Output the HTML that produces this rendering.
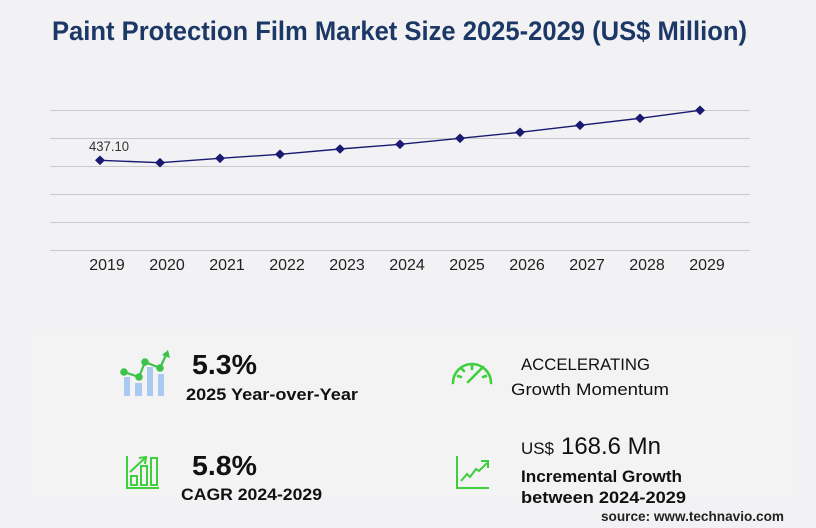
<!DOCTYPE html>
<html><head><meta charset="utf-8"><style>
html,body{margin:0;padding:0;background:#f2f2f4;}
svg{display:block;}
text{font-family:"Liberation Sans",Arial,sans-serif;}
</style></head><body>
<svg width="816" height="528" viewBox="0 0 816 528" xmlns="http://www.w3.org/2000/svg">
<rect x="0" y="0" width="816" height="528" fill="#f2f2f4"/>
<!-- title -->
<text x="52" y="40" font-size="27" font-weight="bold" fill="#1c3866" textLength="695" lengthAdjust="spacingAndGlyphs">Paint Protection Film Market Size 2025-2029 (US$ Million)</text>
<!-- gridlines -->
<g stroke="#c9c9cb" stroke-width="1">
<line x1="50" y1="110.5" x2="750" y2="110.5"/>
<line x1="50" y1="138.5" x2="750" y2="138.5"/>
<line x1="50" y1="166.5" x2="750" y2="166.5"/>
<line x1="50" y1="194.5" x2="750" y2="194.5"/>
<line x1="50" y1="222.5" x2="750" y2="222.5"/>
<line x1="50" y1="250.5" x2="750" y2="250.5"/>
</g>
<!-- series -->
<polyline fill="none" stroke="#1a1a72" stroke-width="1.4" points="100,160.3 160,162.7 220,158.3 280,154.3 340,149 400,144.3 460,138.3 520,132.3 580,125.3 640,118.3 700,110.3"/>
<g fill="#1a1a72">
<path d="M100,155.5 L105,160.3 L100,165.1 L95,160.3Z"/>
<path d="M160,157.9 L165,162.7 L160,167.5 L155,162.7Z"/>
<path d="M220,153.5 L225,158.3 L220,163.1 L215,158.3Z"/>
<path d="M280,149.5 L285,154.3 L280,159.1 L275,154.3Z"/>
<path d="M340,144.2 L345,149 L340,153.8 L335,149Z"/>
<path d="M400,139.5 L405,144.3 L400,149.1 L395,144.3Z"/>
<path d="M460,133.5 L465,138.3 L460,143.1 L455,138.3Z"/>
<path d="M520,127.5 L525,132.3 L520,137.1 L515,132.3Z"/>
<path d="M580,120.5 L585,125.3 L580,130.1 L575,125.3Z"/>
<path d="M640,113.5 L645,118.3 L640,123.1 L635,118.3Z"/>
<path d="M700,105.5 L705,110.3 L700,115.1 L695,110.3Z"/>
</g>
<text x="89" y="151" font-size="14" fill="#333" textLength="40" lengthAdjust="spacingAndGlyphs">437.10</text>
<!-- x labels -->
<g font-size="16" fill="#222" text-anchor="middle">
<text x="107" y="270">2019</text>
<text x="167" y="270">2020</text>
<text x="227" y="270">2021</text>
<text x="287" y="270">2022</text>
<text x="347" y="270">2023</text>
<text x="407" y="270">2024</text>
<text x="467" y="270">2025</text>
<text x="527" y="270">2026</text>
<text x="587" y="270">2027</text>
<text x="647" y="270">2028</text>
<text x="707" y="270">2029</text>
</g>
<!-- panel -->
<rect x="31" y="330" width="761" height="165" fill="#f3f3f4"/>
<!-- icon 1 -->
<g fill="#a9c8f2">
<rect x="124" y="377" width="6" height="19"/>
<rect x="135" y="383" width="7" height="13"/>
<rect x="147" y="367" width="6" height="29"/>
<rect x="158" y="374" width="6" height="22"/>
</g>
<polyline fill="none" stroke="#3dc24a" stroke-width="2.2" points="124,372 139,377 145,362 160,368 166,355"/>
<path d="M168,350 L170,358 L162,355Z" fill="#3dc24a"/>
<g fill="#3dc24a">
<circle cx="124" cy="372" r="3.8"/><circle cx="139" cy="377" r="3.8"/><circle cx="145" cy="362" r="3.8"/><circle cx="160" cy="368" r="3.8"/>
</g>
<!-- icon 2 -->
<g fill="none" stroke="#3dcf3d" stroke-width="2">
<polyline points="127,456 127,488 159,488"/>
<rect x="131" y="476" width="6" height="9"/>
<rect x="141" y="466" width="6" height="19"/>
<rect x="151" y="458" width="6" height="27"/>
<line x1="130" y1="472" x2="145" y2="458"/>
<polyline points="139,458 146,457 145,464"/>
</g>
<!-- gauge icon -->
<g fill="none" stroke="#3dcf3d" stroke-width="2.6" stroke-linecap="round">
<path d="M453,383 A19,19 0 0 1 491,383"/>
<line x1="458" y1="376" x2="461" y2="377"/>
<line x1="462" y1="369" x2="464" y2="371"/>
<line x1="472" y1="366" x2="472" y2="369"/>
<line x1="486" y1="376" x2="483" y2="377"/>
<line x1="468" y1="382" x2="483" y2="367"/>
</g>
<!-- trend icon -->
<g fill="none" stroke="#3dcf3d" stroke-width="2">
<polyline points="457,456 457,488 489,488"/>
<polyline points="461,481 467,474 470,477 476,469 479,471 487,463"/>
<polyline points="481,461 488,461 488,468"/>
</g>
<!-- stats text -->
<text x="192" y="374" font-size="28" font-weight="bold" fill="#111" textLength="65" lengthAdjust="spacingAndGlyphs">5.3%</text>
<text x="186" y="400" font-size="17" font-weight="bold" fill="#111" textLength="172" lengthAdjust="spacingAndGlyphs">2025 Year-over-Year</text>
<text x="192" y="475" font-size="28" font-weight="bold" fill="#111" textLength="65" lengthAdjust="spacingAndGlyphs">5.8%</text>
<text x="181" y="500" font-size="17" font-weight="bold" fill="#111" textLength="141" lengthAdjust="spacingAndGlyphs">CAGR 2024-2029</text>
<text x="521" y="370" font-size="17" fill="#111" textLength="129" lengthAdjust="spacingAndGlyphs">ACCELERATING</text>
<text x="511" y="395" font-size="17" fill="#111" textLength="158" lengthAdjust="spacingAndGlyphs">Growth Momentum</text>
<text x="521" y="454" font-size="17" fill="#111" textLength="33" lengthAdjust="spacingAndGlyphs">US$</text>
<text x="561" y="454" font-size="24" fill="#111" textLength="100" lengthAdjust="spacingAndGlyphs">168.6 Mn</text>
<text x="521" y="482" font-size="17" font-weight="bold" fill="#111" textLength="161" lengthAdjust="spacingAndGlyphs">Incremental Growth</text>
<text x="521" y="503" font-size="17" font-weight="bold" fill="#111" textLength="165" lengthAdjust="spacingAndGlyphs">between 2024-2029</text>
<text x="601" y="521" font-size="14" font-weight="bold" fill="#222" textLength="183" lengthAdjust="spacingAndGlyphs">source: www.technavio.com</text>
</svg>
</body></html>
